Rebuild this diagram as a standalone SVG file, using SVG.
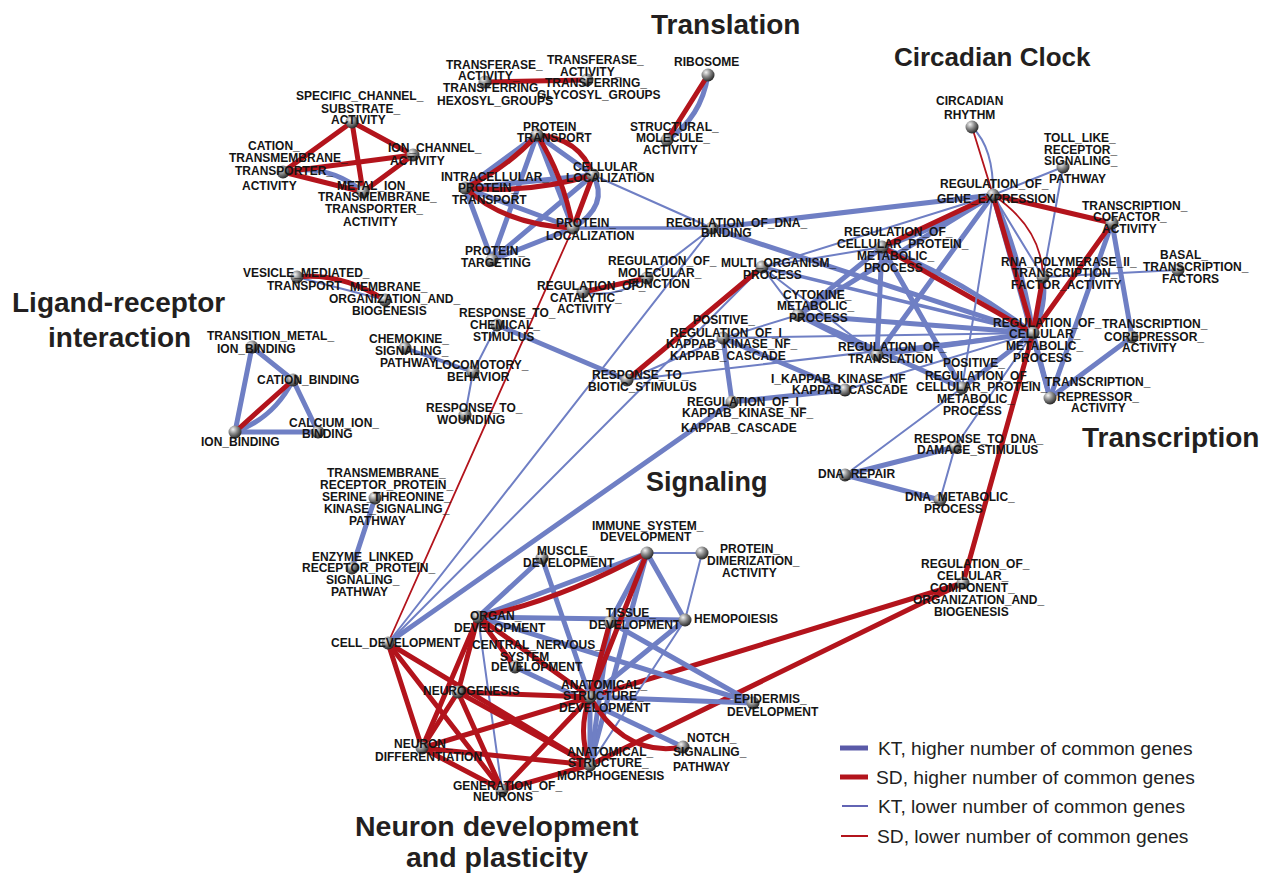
<svg xmlns="http://www.w3.org/2000/svg" width="1275" height="876" viewBox="0 0 1275 876">
<defs>
<radialGradient id="sph" cx="0.35" cy="0.3" r="0.75">
<stop offset="0" stop-color="#f4f4f4"/><stop offset="0.45" stop-color="#8a8a8a"/><stop offset="1" stop-color="#1e1e1e"/>
</radialGradient>
<style>
.B{stroke:#6f7fc4;stroke-width:5;fill:none;stroke-linecap:round}
.M{stroke:#6f7fc4;stroke-width:3.5;fill:none;stroke-linecap:round}
.b{stroke:#6f7fc4;stroke-width:2;fill:none;stroke-linecap:round}
.R{stroke:#b3141c;stroke-width:5;fill:none;stroke-linecap:round}
.r{stroke:#b3141c;stroke-width:1.8;fill:none;stroke-linecap:round}
.nd circle{fill:url(#sph)}
.nd text{font-family:"Liberation Sans",Arial,sans-serif;font-weight:bold;font-size:12px;fill:#141414}
.t{font-family:"Liberation Sans",Arial,sans-serif;font-weight:bold;font-size:28px;fill:#231f20}
.lg{font-family:"Liberation Sans",Arial,sans-serif;font-size:19.2px;fill:#222}
</style>
</defs>
<rect width="1275" height="876" fill="#fff"/>
<g id="connectors">
<path class="B" d="M283,172 Q328,163 363,192"/>
<line class="R" x1="352" y1="122" x2="283" y2="172"/>
<line class="R" x1="352" y1="122" x2="413" y2="155"/>
<line class="R" x1="352" y1="122" x2="363" y2="192"/>
<line class="R" x1="283" y1="172" x2="413" y2="155"/>
<line class="R" x1="283" y1="172" x2="363" y2="192"/>
<line class="R" x1="413" y1="155" x2="363" y2="192"/>
<line class="R" x1="485" y1="82" x2="587" y2="80"/>
<path class="B" d="M708,75 Q701,118 667,140"/>
<line class="R" x1="708" y1="75" x2="667" y2="140"/>
<line class="B" x1="537" y1="135" x2="465" y2="188"/>
<line class="B" x1="537" y1="135" x2="593" y2="175"/>
<line class="B" x1="537" y1="135" x2="573" y2="228"/>
<line class="B" x1="537" y1="135" x2="492" y2="260"/>
<line class="B" x1="465" y1="188" x2="593" y2="175"/>
<line class="B" x1="465" y1="188" x2="573" y2="228"/>
<line class="B" x1="465" y1="188" x2="492" y2="260"/>
<path class="B" d="M593,175 Q610,205 573,228"/>
<line class="B" x1="593" y1="175" x2="492" y2="260"/>
<line class="B" x1="573" y1="228" x2="492" y2="260"/>
<path class="R" d="M537,135 Q507,168 465,188"/>
<path class="R" d="M537,135 Q580,138 593,175"/>
<path class="R" d="M537,135 Q563,175 573,228"/>
<path class="R" d="M465,188 Q529,194 593,175"/>
<path class="R" d="M465,188 Q505,225 573,228"/>
<line class="R" x1="593" y1="175" x2="573" y2="228"/>
<line class="b" x1="593" y1="175" x2="712" y2="228"/>
<line class="M" x1="573" y1="228" x2="712" y2="228"/>
<line class="r" x1="573" y1="228" x2="388" y2="643"/>
<line class="B" x1="712" y1="228" x2="993" y2="195"/>
<line class="B" x1="712" y1="228" x2="1033" y2="333"/>
<line class="b" x1="712" y1="228" x2="647" y2="278"/>
<line class="b" x1="712" y1="228" x2="388" y2="643"/>
<path class="b" d="M647,278 Q615,299 583,292"/>
<line class="R" x1="647" y1="278" x2="583" y2="292"/>
<line class="B" x1="497" y1="325" x2="627" y2="380"/>
<line class="b" x1="497" y1="325" x2="473" y2="372"/>
<line class="b" x1="473" y1="372" x2="465" y2="415"/>
<line class="M" x1="405" y1="348" x2="473" y2="372"/>
<line class="b" x1="297" y1="277" x2="385" y2="300"/>
<path class="R" d="M297,277 Q340,272 385,300"/>
<line class="b" x1="762" y1="267" x2="388" y2="643"/>
<line class="b" x1="762" y1="267" x2="993" y2="195"/>
<line class="b" x1="762" y1="267" x2="882" y2="247"/>
<line class="M" x1="762" y1="267" x2="1033" y2="333"/>
<line class="b" x1="762" y1="267" x2="798" y2="315"/>
<line class="b" x1="762" y1="267" x2="877" y2="355"/>
<line class="B" x1="798" y1="315" x2="882" y2="247"/>
<line class="B" x1="798" y1="315" x2="993" y2="195"/>
<line class="B" x1="798" y1="315" x2="1033" y2="333"/>
<line class="B" x1="798" y1="315" x2="877" y2="355"/>
<line class="B" x1="798" y1="315" x2="962" y2="388"/>
<line class="b" x1="798" y1="315" x2="723" y2="338"/>
<line class="B" x1="723" y1="338" x2="732" y2="402"/>
<line class="B" x1="723" y1="338" x2="845" y2="390"/>
<line class="b" x1="723" y1="338" x2="627" y2="380"/>
<line class="b" x1="723" y1="338" x2="1033" y2="333"/>
<line class="b" x1="627" y1="380" x2="1033" y2="333"/>
<line class="B" x1="732" y1="402" x2="845" y2="390"/>
<line class="B" x1="732" y1="402" x2="388" y2="643"/>
<line class="b" x1="845" y1="390" x2="1033" y2="333"/>
<line class="B" x1="877" y1="355" x2="882" y2="247"/>
<line class="B" x1="877" y1="355" x2="993" y2="195"/>
<line class="B" x1="877" y1="355" x2="1033" y2="333"/>
<line class="B" x1="882" y1="247" x2="962" y2="388"/>
<path class="B" d="M882,247 Q940,228 993,195"/>
<path class="B" d="M882,247 Q962,280 1033,333"/>
<line class="R" x1="762" y1="267" x2="627" y2="380"/>
<line class="R" x1="882" y1="247" x2="993" y2="195"/>
<line class="R" x1="882" y1="247" x2="1033" y2="333"/>
<path class="b" d="M993,195 Q994,148 972,127"/>
<line class="r" x1="993" y1="195" x2="972" y2="127"/>
<line class="b" x1="993" y1="195" x2="1063" y2="167"/>
<path class="B" d="M993,195 Q1022,262 1033,333"/>
<line class="B" x1="993" y1="195" x2="1050" y2="398"/>
<line class="b" x1="993" y1="195" x2="1043" y2="277"/>
<line class="b" x1="993" y1="195" x2="962" y2="388"/>
<line class="b" x1="1063" y1="167" x2="1043" y2="277"/>
<line class="B" x1="1112" y1="223" x2="1132" y2="337"/>
<line class="B" x1="1112" y1="223" x2="1050" y2="398"/>
<line class="b" x1="1178" y1="270" x2="1043" y2="277"/>
<path class="B" d="M1043,277 Q1047,306 1033,333"/>
<line class="B" x1="1033" y1="333" x2="1050" y2="398"/>
<line class="B" x1="1050" y1="398" x2="1132" y2="337"/>
<line class="B" x1="1033" y1="333" x2="962" y2="388"/>
<line class="b" x1="1033" y1="333" x2="955" y2="447"/>
<line class="b" x1="962" y1="388" x2="845" y2="475"/>
<line class="B" x1="845" y1="475" x2="955" y2="447"/>
<line class="B" x1="845" y1="475" x2="940" y2="500"/>
<line class="b" x1="955" y1="447" x2="940" y2="500"/>
<line class="R" x1="993" y1="195" x2="1112" y2="223"/>
<path class="r" d="M993,195 Q1042,228 1043,277"/>
<line class="R" x1="993" y1="195" x2="1033" y2="333"/>
<line class="R" x1="1112" y1="223" x2="1033" y2="333"/>
<line class="R" x1="1043" y1="277" x2="1033" y2="333"/>
<line class="R" x1="1033" y1="333" x2="963" y2="583"/>
<line class="R" x1="963" y1="583" x2="590" y2="697"/>
<line class="R" x1="963" y1="583" x2="590" y2="765"/>
<line class="B" x1="252" y1="347" x2="293" y2="380"/>
<line class="B" x1="252" y1="347" x2="235" y2="432"/>
<path class="B" d="M293,380 Q274,418 235,432"/>
<line class="B" x1="293" y1="380" x2="318" y2="432"/>
<line class="B" x1="235" y1="432" x2="318" y2="432"/>
<line class="R" x1="293" y1="380" x2="235" y2="432"/>
<line class="B" x1="375" y1="498" x2="352" y2="568"/>
<line class="b" x1="647" y1="553" x2="702" y2="553"/>
<line class="B" x1="647" y1="553" x2="478" y2="617"/>
<line class="B" x1="647" y1="553" x2="610" y2="622"/>
<line class="B" x1="647" y1="553" x2="685" y2="620"/>
<line class="B" x1="647" y1="553" x2="590" y2="765"/>
<line class="b" x1="685" y1="620" x2="702" y2="553"/>
<line class="B" x1="542" y1="558" x2="478" y2="617"/>
<line class="B" x1="542" y1="558" x2="590" y2="697"/>
<line class="B" x1="478" y1="617" x2="685" y2="620"/>
<line class="B" x1="478" y1="617" x2="753" y2="703"/>
<line class="b" x1="478" y1="617" x2="502" y2="790"/>
<line class="B" x1="610" y1="622" x2="753" y2="703"/>
<line class="B" x1="610" y1="622" x2="590" y2="765"/>
<line class="B" x1="685" y1="620" x2="590" y2="697"/>
<line class="b" x1="685" y1="620" x2="590" y2="765"/>
<line class="B" x1="590" y1="697" x2="753" y2="703"/>
<line class="B" x1="515" y1="667" x2="683" y2="747"/>
<line class="B" x1="590" y1="697" x2="590" y2="765"/>
<path class="R" d="M647,553 Q556,602 478,617"/>
<line class="R" x1="647" y1="553" x2="590" y2="697"/>
<line class="R" x1="478" y1="617" x2="515" y2="667"/>
<line class="R" x1="478" y1="617" x2="590" y2="697"/>
<line class="R" x1="478" y1="617" x2="458" y2="692"/>
<line class="R" x1="478" y1="617" x2="422" y2="748"/>
<line class="R" x1="610" y1="622" x2="590" y2="697"/>
<line class="R" x1="388" y1="643" x2="422" y2="748"/>
<line class="R" x1="388" y1="643" x2="502" y2="790"/>
<line class="R" x1="388" y1="643" x2="590" y2="765"/>
<line class="R" x1="458" y1="692" x2="422" y2="748"/>
<line class="R" x1="458" y1="692" x2="502" y2="790"/>
<line class="R" x1="458" y1="692" x2="590" y2="697"/>
<line class="R" x1="458" y1="692" x2="590" y2="765"/>
<line class="R" x1="422" y1="748" x2="590" y2="697"/>
<line class="R" x1="422" y1="748" x2="590" y2="765"/>
<line class="R" x1="422" y1="748" x2="502" y2="790"/>
<line class="R" x1="502" y1="790" x2="590" y2="697"/>
<line class="R" x1="502" y1="790" x2="590" y2="765"/>
<path class="R" d="M590,697 Q577,731 590,765"/>
<path class="R" d="M590,697 Q625,758 683,747"/>
</g>
<g id="nodes">
<g class="nd" id="n-specific-channel"><circle cx="352" cy="122" r="6.5"/><text><tspan x="296" y="100">SPECIFIC_CHANNEL_</tspan><tspan x="321" y="113">SUBSTRATE_</tspan><tspan x="331" y="124">ACTIVITY</tspan></text></g>
<g class="nd" id="n-cation-transmembrane"><circle cx="283" cy="172" r="6.5"/><text><tspan x="248" y="150">CATION_</tspan><tspan x="229" y="162">TRANSMEMBRANE_</tspan><tspan x="235" y="175">TRANSPORTER_</tspan><tspan x="242" y="190">ACTIVITY</tspan></text></g>
<g class="nd" id="n-ion-channel"><circle cx="413" cy="155" r="6.5"/><text><tspan x="388" y="152">ION_CHANNEL_</tspan><tspan x="390" y="165">ACTIVITY</tspan></text></g>
<g class="nd" id="n-metal-ion"><circle cx="363" cy="192" r="6.5"/><text><tspan x="337" y="190">METAL_ION_</tspan><tspan x="318" y="201">TRANSMEMBRANE_</tspan><tspan x="325" y="213">TRANSPORTER_</tspan><tspan x="343" y="226">ACTIVITY</tspan></text></g>
<g class="nd" id="n-transferase-hexosyl"><circle cx="485" cy="82" r="6.5"/><text><tspan x="446" y="69">TRANSFERASE_</tspan><tspan x="458" y="80">ACTIVITY_</tspan><tspan x="443" y="92">TRANSFERRING_</tspan><tspan x="437" y="105">HEXOSYL_GROUPS</tspan></text></g>
<g class="nd" id="n-transferase-glycosyl"><circle cx="587" cy="80" r="6.5"/><text><tspan x="547" y="64">TRANSFERASE_</tspan><tspan x="560" y="76">ACTIVITY_</tspan><tspan x="545" y="87">TRANSFERRING_</tspan><tspan x="537" y="99">GLYCOSYL_GROUPS</tspan></text></g>
<g class="nd" id="n-ribosome"><circle cx="708" cy="75" r="6.5"/><text><tspan x="674" y="66">RIBOSOME</tspan></text></g>
<g class="nd" id="n-structural-molecule"><circle cx="667" cy="140" r="6.5"/><text><tspan x="630" y="131">STRUCTURAL_</tspan><tspan x="636" y="142">MOLECULE_</tspan><tspan x="643" y="154">ACTIVITY</tspan></text></g>
<g class="nd" id="n-protein-transport"><circle cx="537" cy="135" r="6.5"/><text><tspan x="523" y="131">PROTEIN_</tspan><tspan x="517" y="142">TRANSPORT</tspan></text></g>
<g class="nd" id="n-cellular-localization"><circle cx="593" cy="175" r="6.5"/><text><tspan x="573" y="171">CELLULAR_</tspan><tspan x="566" y="182">LOCALIZATION</tspan></text></g>
<g class="nd" id="n-intracellular-protein-transport"><circle cx="465" cy="188" r="6.5"/><text><tspan x="441" y="181">INTRACELLULAR_</tspan><tspan x="458" y="192">PROTEIN_</tspan><tspan x="452" y="204">TRANSPORT</tspan></text></g>
<g class="nd" id="n-protein-localization"><circle cx="573" cy="228" r="6.5"/><text><tspan x="556" y="227">PROTEIN_</tspan><tspan x="546" y="240">LOCALIZATION</tspan></text></g>
<g class="nd" id="n-protein-targeting"><circle cx="492" cy="260" r="6.5"/><text><tspan x="465" y="255">PROTEIN_</tspan><tspan x="461" y="267">TARGETING</tspan></text></g>
<g class="nd" id="n-reg-dna-binding"><circle cx="712" cy="228" r="6.5"/><text><tspan x="666" y="227">REGULATION_OF_DNA_</tspan><tspan x="701" y="237">BINDING</tspan></text></g>
<g class="nd" id="n-reg-molecular-function"><circle cx="647" cy="278" r="6.5"/><text><tspan x="608" y="265">REGULATION_OF_</tspan><tspan x="618" y="277">MOLECULAR_</tspan><tspan x="628" y="288">FUNCTION</tspan></text></g>
<g class="nd" id="n-reg-catalytic-activity"><circle cx="583" cy="292" r="6.5"/><text><tspan x="537" y="290">REGULATION_OF_</tspan><tspan x="550" y="302">CATALYTIC_</tspan><tspan x="557" y="313">ACTIVITY</tspan></text></g>
<g class="nd" id="n-multi-organism"><circle cx="762" cy="267" r="6.5"/><text><tspan x="721" y="267">MULTI_ORGANISM_</tspan><tspan x="743" y="279">PROCESS</tspan></text></g>
<g class="nd" id="n-cytokine"><circle cx="798" cy="315" r="6.5"/><text><tspan x="783" y="299">CYTOKINE_</tspan><tspan x="777" y="310">METABOLIC_</tspan><tspan x="789" y="322">PROCESS</tspan></text></g>
<g class="nd" id="n-pos-reg-ikappab"><circle cx="723" cy="338" r="6.5"/><text><tspan x="693" y="324">POSITIVE_</tspan><tspan x="670" y="337">REGULATION_OF_I_</tspan><tspan x="666" y="348">KAPPAB_KINASE_NF_</tspan><tspan x="670" y="360">KAPPAB_CASCADE</tspan></text></g>
<g class="nd" id="n-response-chemical"><circle cx="497" cy="325" r="6.5"/><text><tspan x="459" y="317">RESPONSE_TO_</tspan><tspan x="470" y="329">CHEMICAL_</tspan><tspan x="473" y="341">STIMULUS</tspan></text></g>
<g class="nd" id="n-locomotory"><circle cx="473" cy="372" r="6.5"/><text><tspan x="435" y="369">LOCOMOTORY_</tspan><tspan x="447" y="381">BEHAVIOR</tspan></text></g>
<g class="nd" id="n-response-wounding"><circle cx="465" cy="415" r="6.5"/><text><tspan x="426" y="412">RESPONSE_TO_</tspan><tspan x="437" y="424">WOUNDING</tspan></text></g>
<g class="nd" id="n-response-biotic"><circle cx="627" cy="380" r="6.5"/><text><tspan x="592" y="379">RESPONSE_TO_</tspan><tspan x="588" y="391">BIOTIC_STIMULUS</tspan></text></g>
<g class="nd" id="n-reg-ikappab"><circle cx="732" cy="402" r="6.5"/><text><tspan x="687" y="406">REGULATION_OF_I_</tspan><tspan x="682" y="417">KAPPAB_KINASE_NF_</tspan><tspan x="681" y="432">KAPPAB_CASCADE</tspan></text></g>
<g class="nd" id="n-ikappab-cascade"><circle cx="845" cy="390" r="6.5"/><text><tspan x="771" y="383">I_KAPPAB_KINASE_NF</tspan><tspan x="792" y="394">KAPPAB_CASCADE</tspan></text></g>
<g class="nd" id="n-chemokine"><circle cx="405" cy="348" r="6.5"/><text><tspan x="369" y="343">CHEMOKINE_</tspan><tspan x="375" y="355">SIGNALING_</tspan><tspan x="380" y="367">PATHWAY</tspan></text></g>
<g class="nd" id="n-vesicle"><circle cx="297" cy="277" r="6.5"/><text><tspan x="243" y="277">VESICLE_MEDIATED_</tspan><tspan x="267" y="290">TRANSPORT</tspan></text></g>
<g class="nd" id="n-membrane-org"><circle cx="385" cy="300" r="6.5"/><text><tspan x="350" y="291">MEMBRANE_</tspan><tspan x="329" y="303">ORGANIZATION_AND_</tspan><tspan x="352" y="315">BIOGENESIS</tspan></text></g>
<g class="nd" id="n-transition-metal"><circle cx="252" cy="347" r="6.5"/><text><tspan x="207" y="340">TRANSITION_METAL_</tspan><tspan x="217" y="353">ION_BINDING</tspan></text></g>
<g class="nd" id="n-cation-binding"><circle cx="293" cy="380" r="6.5"/><text><tspan x="257" y="384">CATION_BINDING</tspan></text></g>
<g class="nd" id="n-calcium-ion"><circle cx="318" cy="432" r="6.5"/><text><tspan x="289" y="427">CALCIUM_ION_</tspan><tspan x="302" y="438">BINDING</tspan></text></g>
<g class="nd" id="n-ion-binding"><circle cx="235" cy="432" r="6.5"/><text><tspan x="201" y="446">ION_BINDING</tspan></text></g>
<g class="nd" id="n-tm-receptor-ser-thr"><circle cx="375" cy="498" r="6.5"/><text><tspan x="327" y="477">TRANSMEMBRANE_</tspan><tspan x="320" y="489">RECEPTOR_PROTEIN_</tspan><tspan x="322" y="501">SERINE_THREONINE_</tspan><tspan x="324" y="513">KINASE_SIGNALING_</tspan><tspan x="349" y="525">PATHWAY</tspan></text></g>
<g class="nd" id="n-enzyme-linked"><circle cx="352" cy="568" r="6.5"/><text><tspan x="312" y="561">ENZYME_LINKED_</tspan><tspan x="302" y="572">RECEPTOR_PROTEIN_</tspan><tspan x="326" y="584">SIGNALING_</tspan><tspan x="331" y="596">PATHWAY</tspan></text></g>
<g class="nd" id="n-cell-development"><circle cx="388" cy="643" r="6.5"/><text><tspan x="331" y="647">CELL_DEVELOPMENT</tspan></text></g>
<g class="nd" id="n-circadian-rhythm"><circle cx="972" cy="127" r="6.5"/><text><tspan x="936" y="105">CIRCADIAN</tspan><tspan x="944" y="119">RHYTHM</tspan></text></g>
<g class="nd" id="n-toll-like"><circle cx="1063" cy="167" r="6.5"/><text><tspan x="1044" y="142">TOLL_LIKE_</tspan><tspan x="1044" y="154">RECEPTOR_</tspan><tspan x="1044" y="165">SIGNALING_</tspan><tspan x="1049" y="183">PATHWAY</tspan></text></g>
<g class="nd" id="n-reg-gene-expression"><circle cx="993" cy="195" r="6.5"/><text><tspan x="940" y="188">REGULATION_OF_</tspan><tspan x="937" y="203">GENE_EXPRESSION</tspan></text></g>
<g class="nd" id="n-transcription-cofactor"><circle cx="1112" cy="223" r="6.5"/><text><tspan x="1082" y="210">TRANSCRIPTION_</tspan><tspan x="1093" y="221">COFACTOR_</tspan><tspan x="1102" y="233">ACTIVITY</tspan></text></g>
<g class="nd" id="n-basal-tf"><circle cx="1178" cy="270" r="6.5"/><text><tspan x="1160" y="259">BASAL_</tspan><tspan x="1143" y="271">TRANSCRIPTION_</tspan><tspan x="1162" y="283">FACTORS</tspan></text></g>
<g class="nd" id="n-rna-pol-ii"><circle cx="1043" cy="277" r="6.5"/><text><tspan x="1001" y="266">RNA_POLYMERASE_II_</tspan><tspan x="1012" y="277">TRANSCRIPTION_</tspan><tspan x="1011" y="289">FACTOR_ACTIVITY</tspan></text></g>
<g class="nd" id="n-reg-cell-protein-metab"><circle cx="882" cy="247" r="6.5"/><text><tspan x="844" y="236">REGULATION_OF_</tspan><tspan x="837" y="248">CELLULAR_PROTEIN_</tspan><tspan x="857" y="260">METABOLIC_</tspan><tspan x="864" y="272">PROCESS</tspan></text></g>
<g class="nd" id="n-reg-cell-metab"><circle cx="1033" cy="333" r="6.5"/><text><tspan x="993" y="327">REGULATION_OF_</tspan><tspan x="1009" y="338">CELLULAR_</tspan><tspan x="1006" y="350">METABOLIC_</tspan><tspan x="1013" y="362">PROCESS</tspan></text></g>
<g class="nd" id="n-transcription-corepressor"><circle cx="1132" cy="337" r="6.5"/><text><tspan x="1102" y="328">TRANSCRIPTION_</tspan><tspan x="1104" y="341">COREPRESSOR_</tspan><tspan x="1122" y="352">ACTIVITY</tspan></text></g>
<g class="nd" id="n-transcription-repressor"><circle cx="1050" cy="398" r="6.5"/><text><tspan x="1045" y="386">TRANSCRIPTION_</tspan><tspan x="1057" y="401">REPRESSOR_</tspan><tspan x="1071" y="412">ACTIVITY</tspan></text></g>
<g class="nd" id="n-reg-translation"><circle cx="877" cy="355" r="6.5"/><text><tspan x="838" y="351">REGULATION_OF_</tspan><tspan x="848" y="363">TRANSLATION</tspan></text></g>
<g class="nd" id="n-pos-reg-cell-protein"><circle cx="962" cy="388" r="6.5"/><text><tspan x="943" y="367">POSITIVE_</tspan><tspan x="925" y="380">REGULATION_OF_</tspan><tspan x="916" y="391">CELLULAR_PROTEIN_</tspan><tspan x="937" y="403">METABOLIC_</tspan><tspan x="943" y="415">PROCESS</tspan></text></g>
<g class="nd" id="n-response-dna-damage"><circle cx="955" cy="447" r="6.5"/><text><tspan x="914" y="443">RESPONSE_TO_DNA_</tspan><tspan x="917" y="454">DAMAGE_STIMULUS</tspan></text></g>
<g class="nd" id="n-dna-repair"><circle cx="845" cy="475" r="6.5"/><text><tspan x="818" y="478">DNA_REPAIR</tspan></text></g>
<g class="nd" id="n-dna-metabolic"><circle cx="940" cy="500" r="6.5"/><text><tspan x="905" y="501">DNA_METABOLIC_</tspan><tspan x="924" y="513">PROCESS</tspan></text></g>
<g class="nd" id="n-reg-cell-component"><circle cx="963" cy="583" r="6.5"/><text><tspan x="921" y="568">REGULATION_OF_</tspan><tspan x="937" y="580">CELLULAR_</tspan><tspan x="930" y="592">COMPONENT_</tspan><tspan x="913" y="604">ORGANIZATION_AND_</tspan><tspan x="934" y="616">BIOGENESIS</tspan></text></g>
<g class="nd" id="n-immune-system-dev"><circle cx="647" cy="553" r="6.5"/><text><tspan x="592" y="530">IMMUNE_SYSTEM_</tspan><tspan x="600" y="541">DEVELOPMENT</tspan></text></g>
<g class="nd" id="n-protein-dimerization"><circle cx="702" cy="553" r="6.5"/><text><tspan x="720" y="553">PROTEIN_</tspan><tspan x="707" y="565">DIMERIZATION_</tspan><tspan x="722" y="577">ACTIVITY</tspan></text></g>
<g class="nd" id="n-muscle-dev"><circle cx="542" cy="558" r="6.5"/><text><tspan x="537" y="555">MUSCLE_</tspan><tspan x="523" y="567">DEVELOPMENT</tspan></text></g>
<g class="nd" id="n-organ-dev"><circle cx="478" cy="617" r="6.5"/><text><tspan x="470" y="620">ORGAN_</tspan><tspan x="454" y="632">DEVELOPMENT</tspan></text></g>
<g class="nd" id="n-tissue-dev"><circle cx="610" cy="622" r="6.5"/><text><tspan x="606" y="617">TISSUE_</tspan><tspan x="589" y="629">DEVELOPMENT</tspan></text></g>
<g class="nd" id="n-hemopoiesis"><circle cx="685" cy="620" r="6.5"/><text><tspan x="694" y="623">HEMOPOIESIS</tspan></text></g>
<g class="nd" id="n-cns-dev"><circle cx="515" cy="667" r="6.5"/><text><tspan x="472" y="649">CENTRAL_NERVOUS_</tspan><tspan x="500" y="661">SYSTEM_</tspan><tspan x="491" y="671">DEVELOPMENT</tspan></text></g>
<g class="nd" id="n-neurogenesis"><circle cx="458" cy="692" r="6.5"/><text><tspan x="423" y="695">NEUROGENESIS</tspan></text></g>
<g class="nd" id="n-anat-struct-dev"><circle cx="590" cy="697" r="6.5"/><text><tspan x="561" y="689">ANATOMICAL_</tspan><tspan x="563" y="700">STRUCTURE_</tspan><tspan x="559" y="712">DEVELOPMENT</tspan></text></g>
<g class="nd" id="n-epidermis-dev"><circle cx="753" cy="703" r="6.5"/><text><tspan x="734" y="703">EPIDERMIS_</tspan><tspan x="727" y="716">DEVELOPMENT</tspan></text></g>
<g class="nd" id="n-neuron-diff"><circle cx="422" cy="748" r="6.5"/><text><tspan x="394" y="748">NEURON_</tspan><tspan x="375" y="761">DIFFERENTIATION</tspan></text></g>
<g class="nd" id="n-notch"><circle cx="683" cy="747" r="6.5"/><text><tspan x="687" y="742">NOTCH_</tspan><tspan x="673" y="756">SIGNALING_</tspan><tspan x="673" y="771">PATHWAY</tspan></text></g>
<g class="nd" id="n-anat-struct-morph"><circle cx="590" cy="765" r="6.5"/><text><tspan x="567" y="756">ANATOMICAL_</tspan><tspan x="568" y="767">STRUCTURE_</tspan><tspan x="557" y="780">MORPHOGENESIS</tspan></text></g>
<g class="nd" id="n-generation-neurons"><circle cx="502" cy="790" r="6.5"/><text><tspan x="453" y="790">GENERATION_OF_</tspan><tspan x="473" y="801">NEURONS</tspan></text></g>
</g>
<g id="titles">
<text class="t" x="651" y="34">Translation</text>
<text class="t" x="894" y="66" style="font-size:26px">Circadian Clock</text>
<text class="t" x="12" y="312">Ligand-receptor</text>
<text class="t" x="48" y="347">interaction</text>
<text class="t" x="646" y="491" style="font-size:27px">Signaling</text>
<text class="t" x="1082" y="447">Transcription</text>
<text class="t" x="355" y="836" style="font-size:28.5px">Neuron development</text>
<text class="t" x="406" y="867" style="font-size:28.5px">and plasticity</text>
</g>
<g id="legend">
<line x1="840" y1="748" x2="868" y2="748" stroke="#5a5aa8" stroke-width="5"/>
<line x1="840" y1="777" x2="868" y2="777" stroke="#b3141c" stroke-width="5"/>
<line x1="842" y1="806" x2="868" y2="806" stroke="#6264b4" stroke-width="2"/>
<line x1="841" y1="836" x2="868" y2="836" stroke="#b3141c" stroke-width="2"/>
<text class="lg" x="878" y="755">KT, higher number of common genes</text>
<text class="lg" x="876" y="784">SD, higher number of common genes</text>
<text class="lg" x="878" y="813">KT, lower number of common genes</text>
<text class="lg" x="877" y="843">SD, lower number of common genes</text>
</g>
</svg>
